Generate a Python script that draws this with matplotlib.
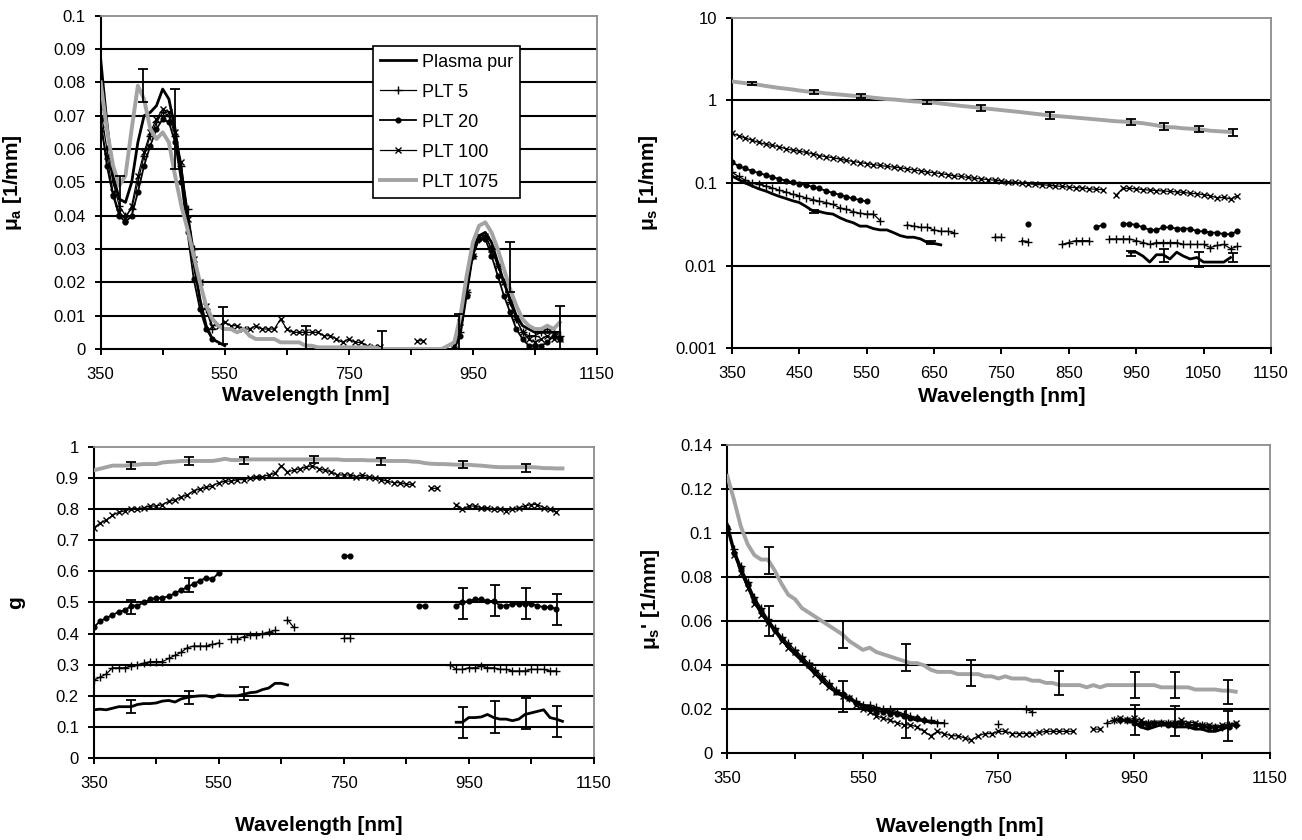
import numpy as np
import matplotlib.pyplot as plt
from matplotlib.ticker import FixedLocator, FuncFormatter

nan = np.nan

# wavelength grid shared by all series [nm]
wl = list(range(350, 1101, 10))

series_names = ['Plasma pur', 'PLT 5', 'PLT 20', 'PLT 100', 'PLT 1075']

# ---------------- mu_a [1/mm] ----------------
ma_plasma = [0.087, 0.068, 0.052, 0.045, 0.044, 0.050, 0.062, 0.070, 0.071, 0.073,
             0.078, 0.075, 0.066, 0.052, 0.040, 0.026, 0.015, 0.007, 0.003, 0.002,
             0.001, nan, nan, nan, nan, nan, nan, nan, nan, nan,
             nan, nan, nan, nan, nan, nan, nan, nan, nan, nan,
             nan, nan, nan, nan, nan, nan, nan, nan, nan, nan,
             nan, nan, nan, nan, nan, nan, nan, 0.001, 0.008, 0.020,
             0.030, 0.034, 0.035, 0.032, 0.026, 0.020, 0.015, 0.010, 0.007, 0.006,
             0.005, 0.005, 0.005, 0.005, 0.005, nan]
ma_plt5 = [0.072, 0.060, 0.050, 0.043, 0.040, 0.042, 0.050, 0.058, 0.064, 0.068,
           0.071, 0.070, 0.064, 0.055, 0.042, 0.030, 0.020, 0.012, 0.006, nan,
           nan, nan, nan, nan, nan, nan, nan, nan, nan, nan,
           nan, nan, nan, nan, nan, nan, nan, nan, nan, nan,
           nan, nan, nan, nan, nan, nan, nan, nan, nan, nan,
           nan, nan, nan, nan, nan, nan, nan, 0.0, 0.005, 0.017,
           0.028, 0.033, 0.034, 0.030, 0.025, 0.020, 0.014, 0.009, 0.005, 0.004,
           0.004, 0.005, 0.006, 0.005, 0.004, nan]
ma_plt20 = [0.069, 0.055, 0.046, 0.040, 0.038, 0.040, 0.047, 0.055, 0.061, 0.066,
            0.069, 0.068, 0.062, 0.050, 0.035, 0.021, 0.012, 0.006, 0.003, nan,
            nan, nan, nan, nan, nan, nan, nan, nan, nan, nan,
            nan, nan, nan, nan, nan, nan, nan, nan, nan, nan,
            nan, nan, nan, nan, nan, nan, nan, nan, nan, nan,
            nan, nan, nan, nan, nan, nan, nan, 0.0, 0.004, 0.016,
            0.028, 0.033, 0.033, 0.028, 0.022, 0.016, 0.011, 0.006, 0.003, 0.001,
            0.001, 0.001, 0.002, 0.004, 0.003, nan]
ma_plt100 = [0.066, 0.058, 0.047, 0.041, 0.039, 0.043, 0.052, 0.059, 0.065, 0.069,
             0.072, 0.071, 0.065, 0.056, 0.039, 0.027, 0.020, 0.013, 0.007, 0.007,
             0.008, 0.007, 0.007, 0.006, 0.006, 0.007, 0.006, 0.006, 0.006, 0.009,
             0.006, 0.005, 0.005, 0.005, 0.005, 0.005, 0.004, 0.004, 0.003, 0.002,
             0.003, 0.002, 0.002, 0.001, 0.0005, 0.0005, nan, nan, nan, nan,
             nan, 0.0025, 0.0025, nan, nan, nan, nan, 0.0, 0.008, 0.017,
             0.028, 0.034, 0.034, 0.030, 0.025, 0.020, 0.014, 0.009, 0.005, 0.003,
             0.002, 0.003, 0.004, 0.003, 0.003, nan]
ma_plt1075 = [0.080, 0.066, 0.055, 0.049, 0.052, 0.066, 0.079, 0.075, 0.066, 0.063,
              0.065, 0.062, 0.052, 0.043, 0.036, 0.028, 0.020, 0.013, 0.009, 0.007,
              0.006, 0.006, 0.005, 0.006, 0.004, 0.003, 0.003, 0.003, 0.003, 0.002,
              0.002, 0.002, 0.002, 0.001, 0.001, 0.0005, 0.0005, 0.0005, 0.0005, 0.0005,
              0.0005, 0.0005, 0.0005, 0.0005, 0.0005, 0.0, 0.0, 0.0, 0.0, 0.0,
              0.0, 0.0, 0.0, 0.0, 0.0, 0.0, 0.001, 0.002, 0.010, 0.022,
              0.032, 0.037, 0.038, 0.035, 0.030, 0.024, 0.018, 0.013, 0.009, 0.007,
              0.006, 0.006, 0.007, 0.006, 0.008, nan]
ma_err_wl = [382, 418, 470, 548, 681, 803, 927, 1010, 1090]
ma_err_mid = [0.046, 0.079, 0.066, 0.007, 0.0035, 0.0025, 0.005, 0.0245, 0.006]
ma_err_half = [0.006, 0.005, 0.012, 0.0055, 0.0035, 0.003, 0.0055, 0.0075, 0.007]

# ---------------- mu_s [1/mm] ----------------
ms_plasma = [0.122, 0.110, 0.100, 0.092, 0.085, 0.080, 0.074, 0.069, 0.065, 0.061,
             0.058, 0.052, 0.046, 0.045, 0.043, 0.042, 0.038, 0.035, 0.033, 0.030,
             0.030, 0.028, 0.027, 0.027, 0.025, 0.023, 0.022, 0.022, 0.021, 0.019,
             0.0185, 0.0178, nan, nan, nan, nan, nan, nan, nan, nan,
             nan, nan, nan, nan, nan, nan, nan, nan, nan, nan,
             nan, nan, nan, nan, nan, nan, nan, nan, nan, 0.0145,
             0.0145, 0.013, 0.011, 0.0135, 0.0135, 0.012, 0.0145, 0.013, 0.012, 0.0125,
             0.011, 0.011, 0.011, 0.011, 0.0125, nan]
ms_plt5 = [0.135, 0.120, 0.108, 0.100, 0.096, 0.092, 0.087, 0.082, 0.078, 0.073,
           0.070, 0.066, 0.063, 0.060, 0.058, 0.055, 0.050, 0.048, 0.045, 0.043,
           0.042, 0.042, 0.035, nan, nan, nan, 0.031, 0.030, 0.029, 0.029,
           0.027, 0.026, 0.026, 0.025, nan, nan, nan, nan, nan, 0.022,
           0.022, nan, nan, 0.020, 0.0195, nan, nan, nan, nan, 0.018,
           0.019, 0.020, 0.020, 0.020, nan, nan, 0.021, 0.021, 0.021, 0.021,
           0.020, 0.019, 0.018, 0.019, 0.019, 0.019, 0.019, 0.018, 0.018, 0.018,
           0.018, 0.0165, 0.0175, 0.018, 0.016, 0.017]
ms_plt20 = [0.180, 0.160, 0.150, 0.140, 0.132, 0.125, 0.118, 0.112, 0.107, 0.102,
            0.098, 0.094, 0.090, 0.086, 0.080, 0.076, 0.072, 0.068, 0.065, 0.062,
            0.060, nan, nan, nan, nan, nan, nan, nan, nan, nan,
            nan, nan, nan, nan, nan, nan, nan, nan, nan, nan,
            nan, nan, nan, nan, 0.032, nan, nan, nan, nan, nan,
            nan, nan, nan, nan, 0.029, 0.031, nan, nan, 0.032, 0.032,
            0.031, 0.029, 0.027, 0.027, 0.029, 0.029, 0.028, 0.028, 0.028, 0.026,
            0.026, 0.025, 0.025, 0.024, 0.024, 0.026]
ms_plt100 = [0.40, 0.375, 0.35, 0.33, 0.31, 0.295, 0.285, 0.275, 0.26, 0.25,
             0.243, 0.235, 0.225, 0.215, 0.208, 0.202, 0.195, 0.188, 0.182, 0.177,
             0.172, 0.167, 0.163, 0.159, 0.156, 0.153, 0.148, 0.144, 0.14, 0.136,
             0.133, 0.13, 0.126, 0.122, 0.12, 0.117, 0.114, 0.112, 0.11, 0.108,
             0.106, 0.104, 0.102, 0.1, 0.098, 0.096, 0.095, 0.094, 0.092, 0.091,
             0.089, 0.088, 0.087, 0.085, 0.084, 0.083, nan, 0.071, 0.086, 0.086,
             0.085, 0.083, 0.082, 0.081, 0.080, 0.079, 0.078, 0.077, 0.075, 0.074,
             0.072, 0.070, 0.066, 0.067, 0.064, 0.070]
ms_plt1075 = [1.70, 1.66, 1.62, 1.59, 1.55, 1.50, 1.46, 1.42, 1.39, 1.36,
              1.32, 1.29, 1.27, 1.25, 1.22, 1.20, 1.18, 1.16, 1.14, 1.13,
              1.11, 1.08, 1.06, 1.04, 1.03, 1.01, 0.99, 0.975, 0.965, 0.955,
              0.94, 0.92, 0.90, 0.88, 0.86, 0.845, 0.83, 0.81, 0.795, 0.78,
              0.765, 0.75, 0.735, 0.72, 0.705, 0.69, 0.675, 0.66, 0.65, 0.64,
              0.63, 0.62, 0.61, 0.60, 0.59, 0.58, 0.57, 0.56, 0.555, 0.55,
              0.54, 0.53, 0.515, 0.50, 0.48, 0.475, 0.47, 0.46, 0.455, 0.45,
              0.44, 0.43, 0.425, 0.42, 0.415, nan]
ms_err_wl_1075 = [380, 472, 541, 639, 720, 822, 942, 991, 1043, 1094]
ms_err_mid_1075 = [1.6, 1.28, 1.13, 0.96, 0.81, 0.66, 0.55, 0.49, 0.45, 0.41]
ms_err_half_1075 = [0.06, 0.07, 0.07, 0.05, 0.07, 0.07, 0.05, 0.05, 0.04, 0.035]
ms_err_wl_plasma = [472, 645, 942, 991, 1043, 1094]
ms_err_mid_plasma = [0.045, 0.019, 0.014, 0.0135, 0.012, 0.0125]
ms_err_half_plasma = [0.002, 0.001, 0.001, 0.0025, 0.0025, 0.0015]

# ---------------- g ----------------
g_plasma = [0.155, 0.157, 0.155, 0.160, 0.165, 0.165, 0.165, 0.172, 0.175, 0.175,
            0.177, 0.183, 0.185, 0.180, 0.190, 0.195, 0.198, 0.200, 0.200, 0.195,
            0.203, 0.200, 0.200, 0.200, 0.205, 0.210, 0.212, 0.220, 0.225, 0.240,
            0.240, 0.235, nan, nan, nan, nan, nan, nan, nan, nan,
            nan, nan, nan, nan, nan, nan, nan, nan, nan, nan,
            nan, nan, nan, nan, nan, nan, nan, nan, 0.115, 0.115,
            0.130, 0.130, 0.132, 0.140, 0.130, 0.125, 0.125, 0.120, 0.125, 0.140,
            0.145, 0.150, 0.155, 0.130, 0.125, 0.118]
g_plt5 = [0.250, 0.260, 0.270, 0.290, 0.290, 0.290, 0.295, 0.300, 0.305, 0.310,
          0.310, 0.310, 0.320, 0.330, 0.340, 0.355, 0.360, 0.360, 0.360, 0.365,
          0.370, nan, 0.383, 0.383, 0.390, 0.395, 0.395, 0.400, 0.405, 0.410,
          nan, 0.445, 0.420, nan, nan, nan, nan, nan, nan, nan,
          0.385, 0.385, nan, nan, nan, nan, nan, nan, nan, nan,
          nan, nan, nan, nan, nan, nan, nan, 0.300, 0.285, 0.285,
          0.290, 0.290, 0.295, 0.290, 0.290, 0.285, 0.285, 0.280, 0.280, 0.280,
          0.285, 0.285, 0.285, 0.280, 0.280, nan]
g_plt20 = [0.420, 0.440, 0.450, 0.460, 0.470, 0.475, 0.490, 0.490, 0.500, 0.510,
           0.515, 0.515, 0.520, 0.530, 0.540, 0.550, 0.560, 0.570, 0.580, 0.575,
           0.595, nan, nan, nan, nan, nan, nan, nan, nan, nan,
           nan, nan, nan, nan, nan, nan, nan, nan, nan, nan,
           0.650, 0.650, nan, nan, nan, nan, nan, nan, nan, nan,
           nan, nan, 0.490, 0.490, nan, nan, nan, nan, 0.490, 0.500,
           0.505, 0.510, 0.510, 0.505, 0.505, 0.490, 0.490, 0.495, 0.495, 0.495,
           0.495, 0.490, 0.485, 0.485, 0.480, nan]
g_plt100 = [0.740, 0.755, 0.765, 0.780, 0.790, 0.795, 0.800, 0.800, 0.805, 0.810,
            0.810, 0.815, 0.825, 0.830, 0.840, 0.845, 0.860, 0.865, 0.870, 0.875,
            0.885, 0.890, 0.890, 0.895, 0.895, 0.900, 0.905, 0.905, 0.910, 0.915,
            0.940, 0.920, 0.925, 0.930, 0.935, 0.940, 0.930, 0.925, 0.920, 0.910,
            0.910, 0.910, 0.905, 0.910, 0.905, 0.900, 0.895, 0.890, 0.885, 0.885,
            0.880, 0.880, nan, nan, 0.867, 0.867, nan, nan, 0.815, 0.800,
            0.810, 0.810, 0.805, 0.805, 0.800, 0.800, 0.795, 0.800, 0.805, 0.810,
            0.815, 0.815, 0.805, 0.800, 0.790, nan]
g_plt1075 = [0.925, 0.930, 0.935, 0.940, 0.940, 0.940, 0.942, 0.943, 0.945, 0.945,
             0.945, 0.950, 0.952, 0.953, 0.955, 0.955, 0.955, 0.955, 0.955, 0.955,
             0.958, 0.962, 0.958, 0.958, 0.960, 0.960, 0.960, 0.960, 0.960, 0.960,
             0.960, 0.960, 0.960, 0.960, 0.960, 0.960, 0.960, 0.960, 0.960, 0.960,
             0.958, 0.958, 0.958, 0.958, 0.957, 0.957, 0.956, 0.955, 0.955, 0.955,
             0.955, 0.953, 0.952, 0.948, 0.946, 0.945, 0.945, 0.944, 0.943, 0.943,
             0.943, 0.941, 0.940, 0.938, 0.936, 0.935, 0.935, 0.935, 0.935, 0.935,
             0.935, 0.934, 0.932, 0.932, 0.931, 0.931]
g_err_wl_1075 = [410, 502, 590, 702, 810, 941, 1041]
g_err_mid_1075 = [0.94, 0.955, 0.957, 0.96, 0.953, 0.943, 0.933]
g_err_half_1075 = [0.012, 0.012, 0.012, 0.012, 0.012, 0.012, 0.012]
g_err_wl_20 = [410, 502, 941, 992, 1041, 1092]
g_err_mid_20 = [0.486, 0.556, 0.496, 0.505, 0.496, 0.477]
g_err_half_20 = [0.022, 0.022, 0.05, 0.05, 0.05, 0.05]
g_err_wl_plasma = [410, 502, 590, 941, 992, 1041, 1092]
g_err_mid_plasma = [0.166, 0.195, 0.207, 0.113, 0.132, 0.142, 0.118]
g_err_half_plasma = [0.021, 0.02, 0.022, 0.05, 0.05, 0.05, 0.05]

# ---------------- mu_s' [1/mm] ----------------
mr_plasma = [0.104, 0.092, 0.083, 0.076, 0.069, 0.064, 0.060, 0.056, 0.052, 0.048,
             0.045, 0.042, 0.039, 0.036, 0.033, 0.030, 0.028, 0.026, 0.025, 0.023,
             0.022, 0.021, 0.020, 0.020, 0.019, 0.018, 0.017, 0.016, 0.015, 0.015,
             0.014, 0.014, nan, nan, nan, nan, nan, nan, nan, nan,
             nan, nan, nan, nan, nan, nan, nan, nan, nan, nan,
             nan, nan, nan, nan, nan, nan, nan, nan, 0.015, 0.015,
             0.014, 0.012, 0.011, 0.012, 0.013, 0.013, 0.012, 0.012, 0.012, 0.011,
             0.011, 0.010, 0.010, 0.011, 0.012, nan]
mr_plt5 = [0.102, 0.093, 0.085, 0.078, 0.071, 0.066, 0.061, 0.057, 0.053, 0.050,
           0.047, 0.044, 0.041, 0.038, 0.035, 0.032, 0.029, 0.027, 0.025, 0.024,
           0.022, 0.022, 0.021, 0.020, 0.020, 0.019, 0.018, 0.017, 0.016, 0.015,
           0.015, 0.014, 0.014, nan, nan, nan, nan, nan, nan, nan,
           0.0135, nan, nan, nan, 0.020, 0.019, nan, nan, nan, nan,
           nan, nan, nan, nan, nan, nan, 0.014, 0.015, 0.015, 0.015,
           0.015, 0.014, 0.014, 0.014, 0.014, 0.014, 0.014, 0.014, 0.013, 0.013,
           0.013, 0.012, 0.012, 0.012, 0.013, 0.013]
mr_plt20 = [0.103, 0.091, 0.084, 0.077, 0.070, 0.065, 0.060, 0.056, 0.052, 0.049,
            0.046, 0.043, 0.040, 0.037, 0.034, 0.031, 0.028, 0.027, 0.025, 0.023,
            0.021, 0.020, 0.019, 0.019, 0.018, 0.018, 0.017, 0.016, 0.016, 0.015,
            nan, nan, nan, nan, nan, nan, nan, nan, nan, nan,
            nan, nan, nan, nan, nan, nan, nan, nan, nan, nan,
            nan, nan, nan, nan, nan, nan, nan, nan, 0.015, 0.015,
            0.014, 0.013, 0.013, 0.014, 0.014, 0.013, 0.013, 0.014, 0.013, 0.013,
            0.012, 0.012, 0.012, 0.012, 0.012, 0.013]
mr_plt100 = [0.101, 0.090, 0.082, 0.075, 0.068, 0.063, 0.059, 0.055, 0.051, 0.048,
             0.046, 0.043, 0.040, 0.036, 0.033, 0.030, 0.028, 0.026, 0.025, 0.022,
             0.020, 0.019, 0.017, 0.016, 0.015, 0.014, 0.013, 0.013, 0.012, 0.010,
             0.008, 0.010, 0.009, 0.008, 0.008, 0.007, 0.006, 0.008, 0.009, 0.009,
             0.010, 0.010, 0.009, 0.009, 0.009, 0.009, 0.0095, 0.010, 0.010, 0.010,
             0.010, 0.010, nan, nan, 0.011, 0.011, nan, 0.015, 0.016, 0.015,
             0.016, 0.015, 0.014, 0.014, 0.014, 0.014, 0.014, 0.015, 0.014, 0.014,
             0.013, 0.013, 0.012, 0.013, 0.013, 0.014]
mr_plt1075 = [0.126, 0.115, 0.103, 0.095, 0.090, 0.088, 0.088, 0.083, 0.077, 0.072,
              0.070, 0.066, 0.064, 0.062, 0.060, 0.058, 0.056, 0.054, 0.051, 0.049,
              0.047, 0.048, 0.046, 0.045, 0.044, 0.043, 0.042, 0.041, 0.041, 0.040,
              0.038, 0.037, 0.037, 0.037, 0.036, 0.036, 0.036, 0.036, 0.035, 0.035,
              0.034, 0.035, 0.034, 0.034, 0.034, 0.033, 0.033, 0.032, 0.032, 0.031,
              0.031, 0.031, 0.031, 0.030, 0.031, 0.030, 0.031, 0.031, 0.031, 0.031,
              0.031, 0.031, 0.031, 0.031, 0.030, 0.030, 0.030, 0.030, 0.030, 0.029,
              0.029, 0.029, 0.029, 0.0285, 0.0285, 0.028]
mr_err_wl_1075 = [412, 521, 613, 709, 840, 951, 1010, 1089]
mr_err_mid_1075 = [0.0875, 0.054, 0.0435, 0.0365, 0.032, 0.031, 0.031, 0.028]
mr_err_half_1075 = [0.006, 0.006, 0.006, 0.006, 0.0055, 0.006, 0.006, 0.0055]
mr_err_wl_black = [412, 521, 613, 951, 1010, 1089]
mr_err_mid_black = [0.060, 0.026, 0.0135, 0.015, 0.0148, 0.0123]
mr_err_half_black = [0.0068, 0.007, 0.0066, 0.0068, 0.0068, 0.0068]

plt.rcParams['font.family'] = ['Liberation Sans', 'DejaVu Sans']
plt.rcParams['mathtext.fontset'] = 'custom'
plt.rcParams['mathtext.rm'] = 'Liberation Sans'
plt.rcParams['mathtext.bf'] = 'Liberation Sans:bold'

GRAY = '#a3a3a3'
styles = [dict(color='black', lw=2.0),
          dict(color='black', lw=0.9, marker='+', ms=6, mew=1.0),
          dict(color='black', lw=1.3, marker='o', ms=3.4),
          dict(color='black', lw=0.9, marker='x', ms=4.4, mew=1.0),
          dict(color=GRAY, lw=2.8)]


def style_axes(ax, ylim, yticks, xmajor, xminor, log=False):
    if log:
        ax.set_yscale('log')
    ax.set_xlim(350, 1150)
    ax.set_ylim(*ylim)
    ax.yaxis.set_major_locator(FixedLocator(yticks))
    ax.yaxis.set_minor_locator(FixedLocator([]))
    ax.yaxis.set_major_formatter(FuncFormatter(lambda v, p: f'{v:g}'))
    ax.xaxis.set_major_locator(FixedLocator(xmajor))
    ax.xaxis.set_minor_locator(FixedLocator(xminor))
    ax.xaxis.set_major_formatter(FuncFormatter(lambda v, p: f'{v:g}'))
    for t in yticks:
        if ylim[0] < t < ylim[1]:
            ax.axhline(t, color='black', lw=1.5, zorder=1)
    for s in ['top', 'right']:
        ax.spines[s].set_color('#8c8c8c')
        ax.spines[s].set_linewidth(1.3)
    for s in ['left', 'bottom']:
        ax.spines[s].set_color('black')
        ax.spines[s].set_linewidth(1.5)
    ax.tick_params(which='both', direction='out', length=4.2, width=1.4,
                   colors='black', labelsize=12)
    ax.tick_params(axis='x', which='both', pad=8.5)
    ax.tick_params(axis='y', pad=6.5)


def draw_series(ax, data):
    lines = []
    for name, vals, st in zip(series_names, data, styles):
        ln, = ax.plot(wl, vals, label=name, zorder=3, **st)
        lines.append(ln)
    return lines


def draw_err(ax, x, mid, half):
    ax.errorbar(x, mid, yerr=half, fmt='none', ecolor='black', elinewidth=1.3,
                capsize=3.5, capthick=1.3, zorder=4)


label_kw = dict(fontsize=15, fontweight='bold')

fig = plt.figure(figsize=(13.02, 8.4), dpi=100)

# panel 1: mu_a
ax1 = fig.add_axes([0.0773, 0.5845, 0.3812, 0.3968])
lines = draw_series(ax1, [ma_plasma, ma_plt5, ma_plt20, ma_plt100, ma_plt1075])
draw_err(ax1, ma_err_wl, ma_err_mid, ma_err_half)
style_axes(ax1, (0, 0.1), [0, 0.01, 0.02, 0.03, 0.04, 0.05, 0.06, 0.07, 0.08, 0.09, 0.1],
           [350, 550, 750, 950, 1150], [450, 650, 850, 1050])
ax1.set_xlabel('Wavelength [nm]', **label_kw)
ax1.set_ylabel(r'μ$_{\mathbf{a}}$ [1/mm]', **label_kw)
ax1.xaxis.set_label_coords(0.413, -0.112)
ax1.yaxis.set_label_coords(-0.155, 0.5)
leg = ax1.legend(handles=lines, loc='upper left', bbox_to_anchor=(0.549, 0.908),
                 borderaxespad=0, fontsize=13, labelspacing=0.72, handlelength=1.95,
                 handletextpad=0.33, borderpad=0.4, fancybox=False, framealpha=1,
                 edgecolor='black')
leg.get_frame().set_linewidth(1.2)

# panel 2: mu_s (log)
ax2 = fig.add_axes([0.5621, 0.5857, 0.4141, 0.3929])
draw_series(ax2, [ms_plasma, ms_plt5, ms_plt20, ms_plt100, ms_plt1075])
draw_err(ax2, ms_err_wl_1075, ms_err_mid_1075, ms_err_half_1075)
draw_err(ax2, ms_err_wl_plasma, ms_err_mid_plasma, ms_err_half_plasma)
style_axes(ax2, (0.001, 10), [0.001, 0.01, 0.1, 1, 10],
           list(range(350, 1151, 100)), [], log=True)
ax2.set_xlabel('Wavelength [nm]', **label_kw)
ax2.set_ylabel(r'μ$_{\mathbf{s}}$ [1/mm]', **label_kw)
ax2.xaxis.set_label_coords(0.5, -0.118)
ax2.yaxis.set_label_coords(-0.133, 0.5)

# panel 3: g
ax3 = fig.add_axes([0.0720, 0.0976, 0.3840, 0.3703])
draw_series(ax3, [g_plasma, g_plt5, g_plt20, g_plt100, g_plt1075])
draw_err(ax3, g_err_wl_1075, g_err_mid_1075, g_err_half_1075)
draw_err(ax3, g_err_wl_20, g_err_mid_20, g_err_half_20)
draw_err(ax3, g_err_wl_plasma, g_err_mid_plasma, g_err_half_plasma)
style_axes(ax3, (0, 1), [0, 0.1, 0.2, 0.3, 0.4, 0.5, 0.6, 0.7, 0.8, 0.9, 1],
           [350, 550, 750, 950, 1150], [450, 650, 850, 1050])
ax3.set_xlabel('Wavelength [nm]', **label_kw)
ax3.set_ylabel('g', **label_kw)
ax3.xaxis.set_label_coords(0.45, -0.188)
ax3.yaxis.set_label_coords(-0.137, 0.5)

# panel 4: reduced scattering
ax4 = fig.add_axes([0.5586, 0.1031, 0.4165, 0.3671])
draw_series(ax4, [mr_plasma, mr_plt5, mr_plt20, mr_plt100, mr_plt1075])
draw_err(ax4, mr_err_wl_1075, mr_err_mid_1075, mr_err_half_1075)
draw_err(ax4, mr_err_wl_black, mr_err_mid_black, mr_err_half_black)
style_axes(ax4, (0, 0.14), [0, 0.02, 0.04, 0.06, 0.08, 0.1, 0.12, 0.14],
           [350, 550, 750, 950, 1150], [450, 650, 850, 1050])
ax4.set_xlabel('Wavelength [nm]', **label_kw)
ax4.set_ylabel(r"μ$_{\mathbf{s}}$' [1/mm]", **label_kw)
ax4.xaxis.set_label_coords(0.429, -0.205)
ax4.yaxis.set_label_coords(-0.12, 0.5)

fig.savefig('out.png', dpi=100)
